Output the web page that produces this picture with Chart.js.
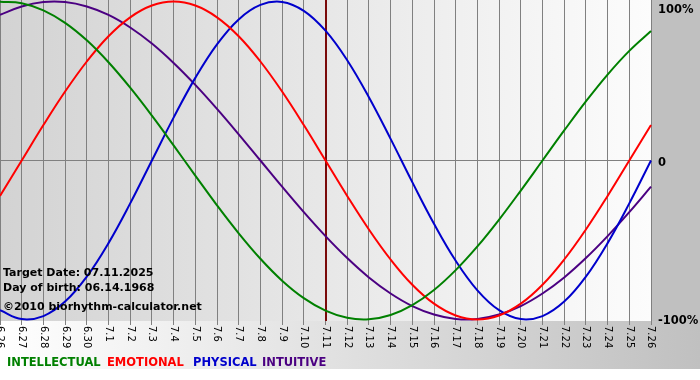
<!DOCTYPE html>
<html>
<head>
<meta charset="utf-8">
<script src="https://cdn.jsdelivr.net/npm/chart.js@4/dist/chart.umd.min.js"></script>
<style>
  html, body { margin: 0; padding: 0; background: #ffffff; }
  #wrap { width: 700px; height: 380px; position: relative; }
</style>
</head>
<body>
<div id="wrap"><canvas id="c" width="700" height="380"></canvas></div>
<script>
// ---- data ----
const categories = ['6.26','6.27','6.28','6.29','6.30','7.1','7.2','7.3','7.4','7.5','7.6','7.7','7.8','7.9','7.10',
  '7.11','7.12','7.13','7.14','7.15','7.16','7.17','7.18','7.19','7.20','7.21','7.22','7.23','7.24','7.25','7.26'];

const intellectual = [99.9, 99.0, 94.5, 86.6, 75.6, 61.8, 45.8, 28.2, 9.5, -9.5, -28.2, -45.8, -61.8, -75.6, -86.6,
  -94.5, -99.0, -99.9, -97.2, -91.0, -81.5, -69.0, -54.1, -37.2, -18.9, 0, 18.9, 37.2, 54.1, 69.0, 81.5];
const emotional = [-22.3, 0, 22.3, 43.4, 62.3, 78.2, 90.1, 97.5, 100, 97.5, 90.1, 78.2, 62.3, 43.4, 22.3,
  0, -22.3, -43.4, -62.3, -78.2, -90.1, -97.5, -100, -97.5, -90.1, -78.2, -62.3, -43.4, -22.3, 0, 22.3];
const physical = [-94.2, -99.8, -97.9, -88.8, -73.1, -52.0, -27.0, 0, 27.0, 52.0, 73.1, 88.8, 97.9, 99.8, 94.2,
  81.7, 63.1, 39.8, 13.6, -13.6, -39.8, -63.1, -81.7, -94.2, -99.8, -97.9, -88.8, -73.1, -52.0, -27.0, 0];
const intuitive = [91.6, 96.9, 99.7, 99.7, 96.9, 91.6, 83.7, 73.6, 61.4, 47.6, 32.5, 16.5, 0, -16.5, -32.5,
  -47.6, -61.4, -73.6, -83.7, -91.6, -96.9, -99.7, -99.7, -96.9, -91.6, -83.7, -73.6, -61.4, -47.6, -32.5, -16.5];

const seriesNames = ['INTELLECTUAL', 'EMOTIONAL', 'PHYSICAL', 'INTUITIVE'];
const yTickValues = [100, 0, -100];
const yTickLabels = ['100%', '0', '-100%'];
const targetDay = '7.11';
const infoLines = ['Target Date: 07.11.2025', 'Day of birth: 06.14.1968', '\u00A92010 biorhythm-calculator.net'];

// ---- styles ----
const colors = ['#008000', '#ff0000', '#0000cc', '#4b0082'];
const legendX = [7, 107, 193, 262];
const seriesData = [intellectual, emotional, physical, intuitive];

const decor = {
  id: 'decor',
  beforeDraw(chart) {
    const ctx = chart.ctx;
    const a = chart.chartArea;
    const W = chart.width;
    ctx.save();
    ctx.fillStyle = '#ffffff';
    ctx.fillRect(0, 0, W, chart.height);
    let g = ctx.createLinearGradient(a.left, 0, a.right, 0);
    g.addColorStop(0, '#d3d3d3');
    g.addColorStop(1, '#fcfcfc');
    ctx.fillStyle = g;
    ctx.fillRect(a.left, a.top, a.right - a.left, a.bottom - a.top);
    ctx.fillStyle = '#c0c0c0';
    ctx.fillRect(a.right, 0, W - a.right, a.bottom);
    g = ctx.createLinearGradient(0, 0, W, 0);
    g.addColorStop(0, '#ffffff');
    g.addColorStop(1, '#c0c0c0');
    ctx.fillStyle = g;
    ctx.fillRect(0, a.bottom, W, 369 - a.bottom);
    ctx.restore();
  },
  beforeDatasetsDraw(chart) {
    const ctx = chart.ctx;
    const a = chart.chartArea;
    const x = Math.round(chart.scales.x.getPixelForValue(categories.indexOf(targetDay)));
    ctx.save();
    ctx.strokeStyle = '#7a0a0a';
    ctx.lineWidth = 2;
    ctx.beginPath();
    ctx.moveTo(x, a.top);
    ctx.lineTo(x, a.bottom);
    ctx.stroke();
    ctx.restore();
  },
  afterDraw(chart) {
    const ctx = chart.ctx;
    const a = chart.chartArea;
    const xs = chart.scales.x;
    const ys = chart.scales.y;
    ctx.save();
    ctx.fillStyle = '#000000';
    ctx.font = '10px "DejaVu Sans"';
    ctx.textAlign = 'left';
    ctx.textBaseline = 'middle';
    categories.forEach((lab, i) => {
      const x = xs.getPixelForValue(i);
      ctx.save();
      ctx.translate(x, a.bottom + 5);
      ctx.rotate(Math.PI / 2);
      ctx.fillText(lab, 0, 0);
      ctx.restore();
    });
    ctx.font = 'bold 11.5px "DejaVu Sans"';
    ctx.textBaseline = 'alphabetic';
    const yOff = [11, 5, 5];
    yTickValues.forEach((v, i) => {
      const y = ys.getPixelForValue(v) + yOff[i];
      ctx.fillText(yTickLabels[i], a.right + 7, y);
    });
    ctx.font = 'bold 11px "DejaVu Sans"';
    const infoY = [276, 291, 310];
    infoLines.forEach((t, i) => ctx.fillText(t, 3, infoY[i]));
    ctx.font = 'bold 11.5px "DejaVu Sans"';
    seriesNames.forEach((n, i) => {
      ctx.fillStyle = colors[i];
      ctx.fillText(n, legendX[i], 366);
    });
    ctx.restore();
  }
};

new Chart(document.getElementById('c'), {
  type: 'line',
  data: {
    labels: categories,
    datasets: seriesNames.map((n, i) => ({
      label: n,
      data: seriesData[i],
      borderColor: colors[i],
      backgroundColor: colors[i],
      borderWidth: 2,
      pointRadius: 0,
      tension: 0.4,
      fill: false
    }))
  },
  options: {
    responsive: false,
    animation: false,
    devicePixelRatio: 1,
    layout: { padding: { left: 0, top: 0, right: 49, bottom: 55 } },
    plugins: { legend: { display: false }, tooltip: { enabled: false } },
    scales: {
      x: {
        type: 'category',
        offset: false,
        ticks: { display: false },
        border: { display: false },
        grid: { color: '#808080', lineWidth: 1, drawTicks: true, tickLength: 4, offset: false }
      },
      y: {
        position: 'right',
        min: -101,
        max: 101,
        ticks: { display: false, stepSize: 100 },
        border: { display: false },
        grid: {
          drawTicks: false,
          color: (c) => (c.tick && c.tick.value === 0 ? '#808080' : 'rgba(0,0,0,0)')
        }
      }
    }
  },
  plugins: [decor]
});
</script>
</body>
</html>
